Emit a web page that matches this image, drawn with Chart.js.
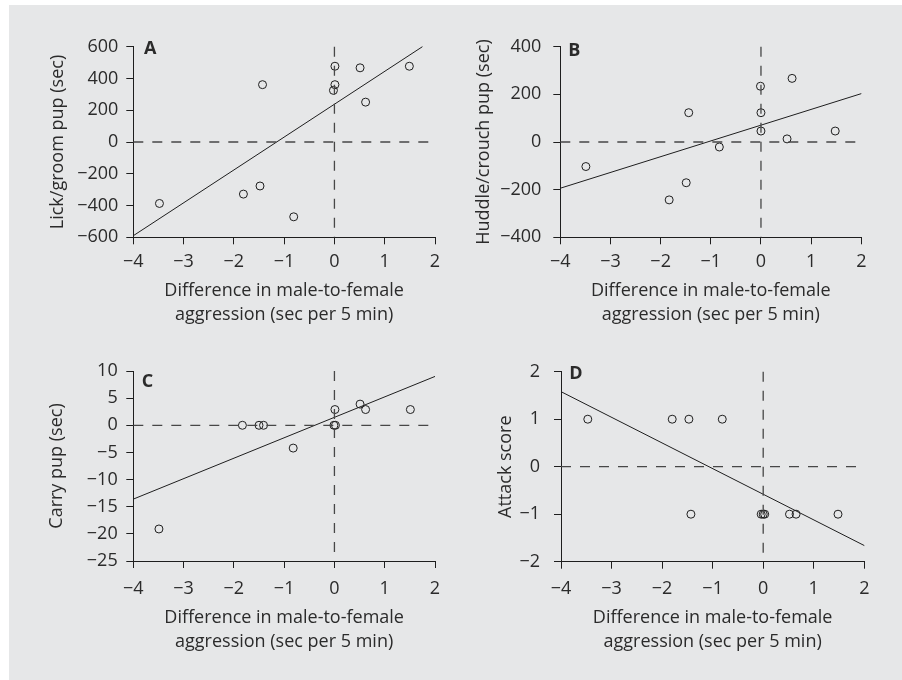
<!DOCTYPE html>
<html><head><meta charset="utf-8">
<script src="https://cdn.jsdelivr.net/npm/chart.js@4.4.1/dist/chart.umd.min.js"></script>
<style>
html,body{margin:0;padding:0;background:#fff;}
body{width:902px;height:680px;position:relative;overflow:hidden;}
#bg{position:absolute;left:9px;top:5px;width:893px;height:675px;background:#e6e7e8;}
canvas{position:absolute;}
</style></head><body>
<div id="bg"></div>
<canvas id="cA" width="451" height="340" style="left:0;top:0"></canvas>
<canvas id="cB" width="451" height="340" style="left:451px;top:0"></canvas>
<canvas id="cC" width="451" height="340" style="left:0;top:340px"></canvas>
<canvas id="cD" width="451" height="340" style="left:451px;top:340px"></canvas>
<script>
// ---- data ----
const xTicks = [-4, -3, -2, -1, 0, 1, 2];
const xTitle = ['Difference in male-to-female', 'aggression (sec per 5 min)'];

// Panel A: lick/groom pup
const aggA  = [-3.48, -1.81, -1.48, -1.43, -0.81, 0.01, 0.01, -0.02, 0.51, 0.62, 1.49];
const lickA = [-387, -328, -277, 361, -471, 477, 361, 325, 467, 251, 477];
const fitAx = [-4, 1.75];
const fitAy = [-590, 600];
const yTicksA = [-600, -400, -200, 0, 200, 400, 600];

// Panel B: huddle/crouch pup
const aggB    = [-3.49, -1.83, -1.49, -1.44, -0.83, -0.01, 0.0, 0.0, 0.52, 0.62, 1.48];
const huddleB = [-103, -243, -171, 123, -21, 234, 123, 46, 13, 267, 46];
const fitBx = [-4, 2];
const fitBy = [-194, 203];
const yTicksB = [-400, -200, 0, 200, 400];

// Panel C: carry pup
const aggC   = [-3.49, -1.83, -1.50, -1.41, -0.82, -0.01, 0.02, 0.01, 0.51, 0.62, 1.51];
const carryC = [-19.1, 0, 0, 0, -4.2, 0, 0, 2.9, 3.9, 2.9, 2.9];
const fitCx = [-4, 2];
const fitCy = [-13.6, 9.0];
const yTicksC = [-25, -20, -15, -10, -5, 0, 5, 10];

// Panel D: attack score
const aggD    = [-3.47, -1.80, -1.47, -0.81, -1.43, -0.04, 0.0, 0.03, 0.52, 0.65, 1.48];
const attackD = [1, 1, 1, 1, -1, -1, -1, -1, -1, -1, -1];
const fitDx = [-4, 2];
const fitDy = [1.58, -1.66];
const yTicksD = [-2, -1, 0, 1, 2];

// ---- style / layout ----
const FONT = '"Open Sans", "Noto Sans", sans-serif';
const FS = 18;
const TXT = '#2b2b2b';
const INK = '#1e1e1e';
const W = 451, H = 340;

const panelLabel = {
  id: 'panelLabel',
  afterDraw(chart, args, o) {
    const ctx = chart.ctx;
    ctx.save();
    ctx.font = 'bold 18px ' + FONT;
    ctx.fillStyle = TXT;
    ctx.textAlign = 'left';
    ctx.textBaseline = 'alphabetic';
    ctx.fillText(o.text, o.x, o.y);
    ctx.restore();
  }
};

function fmt(v) { return v < 0 ? '\u2212' + Math.abs(v) : String(v); }

function makePanel(id, letter, xs, ys, fx, fy, yTicks, yTitle, lay) {
  const xmin = xTicks[0], xmax = xTicks[xTicks.length - 1];
  const ymin = yTicks[0], ymax = yTicks[yTicks.length - 1];
  const ystep = yTicks[1] - yTicks[0];
  const lh = 24.3;
  const tlh = FS * 1.2;
  new Chart(document.getElementById(id), {
    type: 'scatter',
    data: {
      datasets: [
        { data: [{x: xmin, y: 0}, {x: xmax, y: 0}], showLine: true, borderColor: '#474747', borderWidth: 1.3,
          borderDash: [10, 9], pointRadius: 0, clip: false },
        { data: [{x: 0, y: ymax}, {x: 0, y: ymin}], showLine: true, borderColor: '#474747', borderWidth: 1.3,
          borderDash: [10, 9], pointRadius: 0, clip: false },
        { data: fx.map((x, i) => ({x, y: fy[i]})), showLine: true, borderColor: INK, borderWidth: 1,
          pointRadius: 0, clip: false },
        { data: xs.map((x, i) => ({x, y: ys[i]})), showLine: false, pointStyle: 'circle', pointRadius: 4,
          borderWidth: 1, borderColor: INK, backgroundColor: 'rgba(0,0,0,0)', clip: false }
      ]
    },
    options: {
      responsive: false,
      animation: false,
      events: [],
      devicePixelRatio: 1,
      layout: { padding: { left: 0, top: lay.T, right: W - lay.R, bottom: 0 } },
      plugins: { legend: { display: false }, tooltip: { enabled: false },
        panelLabel: { text: letter, x: lay.lx, y: lay.ly } },
      scales: {
        x: {
          type: 'linear', min: xmin, max: xmax,
          afterFit: s => { s.height = H - lay.B; },
          border: { display: true, color: INK, width: 1 },
          grid: { display: true, drawOnChartArea: false, drawTicks: true, tickLength: 7, color: INK },
          ticks: { stepSize: 1, padding: lay.xc - 7 - tlh / 2, color: TXT, font: { family: FONT, size: FS }, callback: fmt },
          title: { display: true, text: xTitle, color: TXT,
            font: { family: FONT, size: FS, lineHeight: lh / FS },
            padding: { top: 0, bottom: H - lay.t2 - lh / 2 } }
        },
        y: {
          type: 'linear', min: ymin, max: ymax,
          afterFit: s => { s.width = lay.L; },
          border: { display: true, color: INK, width: 1 },
          grid: { display: true, drawOnChartArea: false, drawTicks: true, tickLength: 7, color: INK },
          ticks: { stepSize: ystep, padding: lay.ypad, color: TXT, font: { family: FONT, size: FS }, callback: fmt },
          title: { display: true, text: yTitle, color: TXT,
            font: { family: FONT, size: FS, lineHeight: 1.2 },
            padding: { top: lay.yt - tlh / 2, bottom: 0 } }
        }
      }
    },
    plugins: [panelLabel]
  });
}

makePanel('cA', 'A', aggA, lickA, fitAx, fitAy, yTicksA, 'Lick/groom pup (sec)',
  { L: 133.3, R: 435, T: 46.7, B: 237.3, t2: 315, yt: 58, xc: 24.5, ypad: 8, lx: 144, ly: 53.5 });
makePanel('cB', 'B', aggB, huddleB, fitBx, fitBy, yTicksB, 'Huddle/crouch pup (sec)',
  { L: 109.3, R: 410.3, T: 46.7, B: 237.3, t2: 315, yt: 33.3, xc: 25, ypad: 12, lx: 117.3, ly: 56 });
makePanel('cC', 'C', aggC, carryC, fitCx, fitCy, yTicksC, 'Carry pup (sec)',
  { L: 133.3, R: 435, T: 31, B: 221, t2: 301.7, yt: 57, xc: 27.7, ypad: 8.6, lx: 141.7, ly: 46.5 });
makePanel('cD', 'D', aggD, attackD, fitDx, fitDy, yTicksD, 'Attack score',
  { L: 110, R: 413.3, T: 31.7, B: 221.7, t2: 301.7, yt: 54.7, xc: 27, ypad: 14, lx: 118.3, ly: 39.3 });
</script>
</body></html>
